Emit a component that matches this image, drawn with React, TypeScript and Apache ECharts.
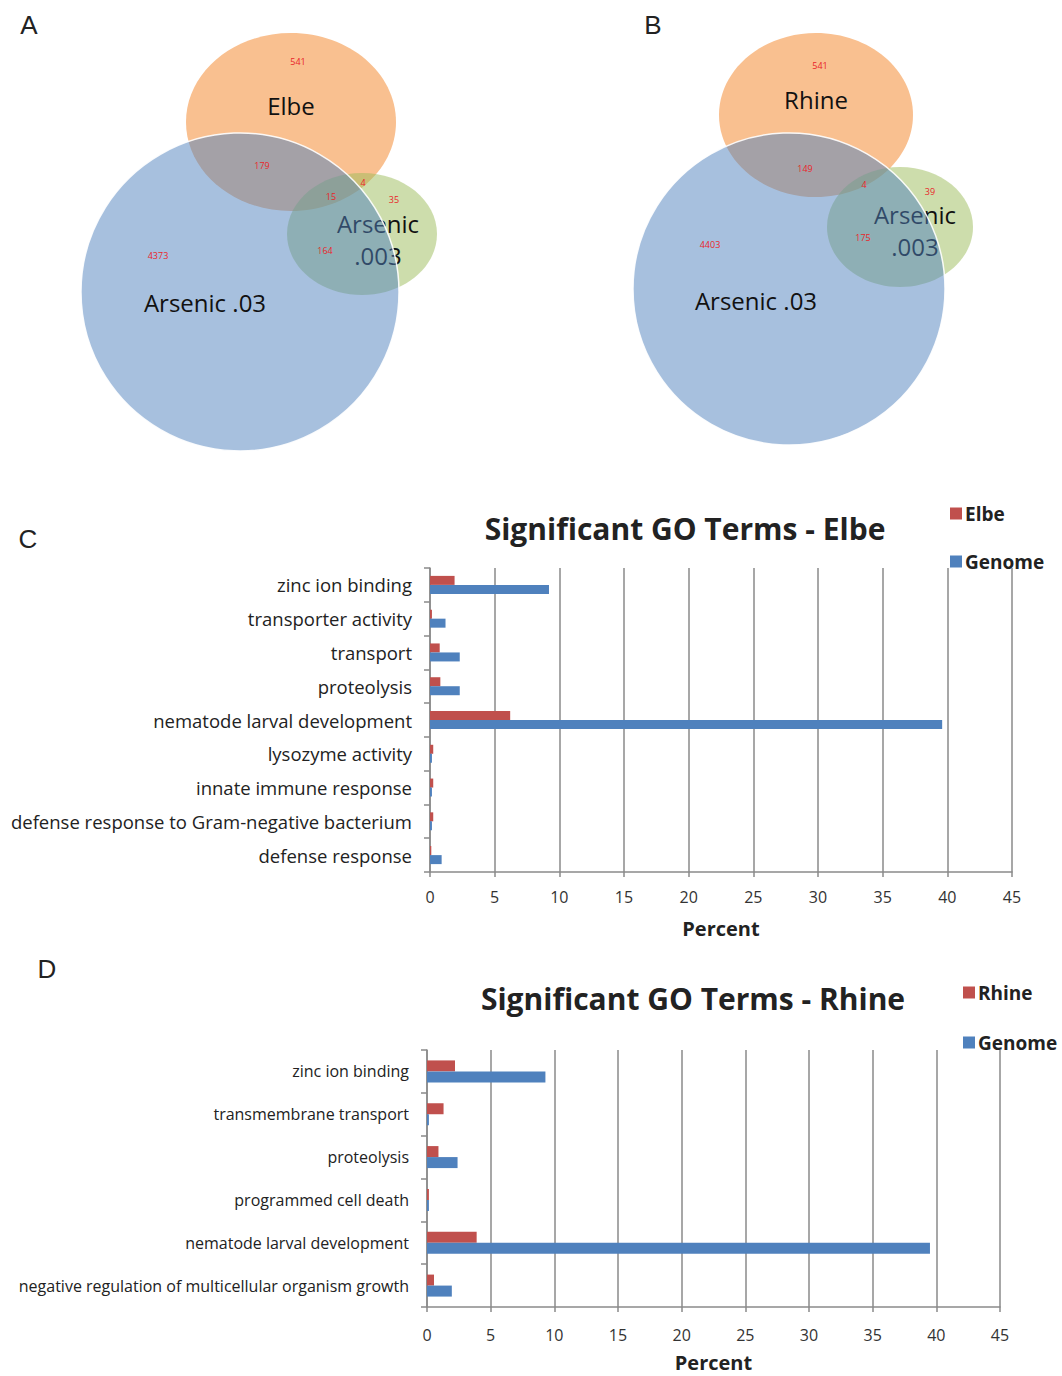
import React, { useEffect, useRef } from "react";
import * as echarts from "echarts";

// ---------- data ----------
const catsC = [
  "zinc ion binding",
  "transporter activity",
  "transport",
  "proteolysis",
  "nematode larval development",
  "lysozyme activity",
  "innate immune response",
  "defense response to Gram-negative bacterium",
  "defense response",
];
const elbeC = [1.9, 0.15, 0.75, 0.8, 6.2, 0.25, 0.25, 0.25, 0.1];
const genomeC = [9.2, 1.2, 2.3, 2.3, 39.6, 0.15, 0.15, 0.15, 0.9];

const catsD = [
  "zinc ion binding",
  "transmembrane transport",
  "proteolysis",
  "programmed cell death",
  "nematode larval development",
  "negative regulation of multicellular organism growth",
];
const rhineD = [2.2, 1.3, 0.9, 0.15, 3.9, 0.55];
const genomeD = [9.3, 0.15, 2.4, 0.15, 39.5, 1.95];

const xTicks = [0, 5, 10, 15, 20, 25, 30, 35, 40, 45];

// Venn diagram counts
const vennACounts = ["541", "179", "15", "4", "35", "4373", "164"];
const vennBCounts = ["541", "149", "4", "39", "4403", "175"];
const vennASets = ["Elbe", "Arsenic .03", "Arsenic", ".003"];
const vennBSets = ["Rhine", "Arsenic .03", "Arsenic", ".003"];

// positions (layout only)
const vennACountPos = [[298, 61], [262, 165], [331, 196], [363, 182], [394, 199], [158, 255], [325, 250]];
const vennBCountPos = [[820, 65], [805, 168], [864, 184], [930, 191], [710, 244], [863, 237]];

const FONT = "'Open Sans', Lato, sans-serif";
const RED = "#C0504D";
const BLUE = "#4F81BD";
const GRID = "#8a8a8a";

function vennGraphics(
  ox: { o: number[]; b: number[]; g: number[] },
  sets: string[],
  labelPos: number[][],
  counts: string[],
  countPos: number[][]
) {
  const els: any[] = [];
  const lbl = (t: string, p: number[], z: number) => ({
    type: "text",
    z,
    x: p[0],
    y: p[1],
    style: { text: t, font: `24px ${FONT}`, fill: "#111", align: "center", verticalAlign: "middle" },
  });
  els.push({
    type: "ellipse",
    z: 1,
    shape: { cx: ox.o[0], cy: ox.o[1], rx: ox.o[2], ry: ox.o[3] },
    style: { fill: "#F9C090" },
  });
  els.push({
    type: "ellipse",
    z: 2,
    shape: { cx: ox.g[0], cy: ox.g[1], rx: ox.g[2], ry: ox.g[3] },
    style: { fill: "rgba(155,187,89,0.5)" },
  });
  // Arsenic .003 label lies beneath the blue circle
  els.push(lbl(sets[2], labelPos[2], 3));
  els.push(lbl(sets[3], labelPos[3], 3));
  els.push({
    type: "circle",
    z: 4,
    shape: { cx: ox.b[0], cy: ox.b[1], r: ox.b[2] },
    style: { fill: "rgba(79,129,189,0.5)", stroke: "rgba(255,255,255,0.9)", lineWidth: 1.5 },
  });
  els.push(lbl(sets[0], labelPos[0], 5));
  els.push(lbl(sets[1], labelPos[1], 5));
  counts.forEach((c, i) => {
    els.push({
      type: "text",
      z: 6,
      x: countPos[i][0],
      y: countPos[i][1],
      style: { text: c, font: `9px ${FONT}`, fill: "#E8262A", align: "center", verticalAlign: "middle" },
    });
  });
  return els;
}

function panelLetter(t: string, x: number, y: number) {
  return {
    type: "text",
    z: 10,
    x,
    y,
    style: { text: t, font: "26px 'Liberation Sans', Arial, sans-serif", fill: "#222", align: "center", verticalAlign: "middle" },
  };
}

function xAxisCfg(gridIndex: number, margin: number, nameGap: number) {
  return {
    type: "value",
    gridIndex,
    min: 0,
    max: 45,
    interval: 5,
    name: "Percent",
    nameLocation: "middle",
    nameGap,
    nameTextStyle: { fontFamily: FONT, fontSize: 20, fontWeight: "bold", color: "#222" },
    axisLine: { show: true, lineStyle: { color: GRID, width: 1.5 } },
    axisTick: { show: true, length: 5, lineStyle: { color: GRID, width: 1.5 } },
    axisLabel: {
      fontFamily: FONT,
      fontSize: 16,
      color: "#333",
      margin,
      formatter: (v: number) => (xTicks.includes(v) ? String(v) : ""),
    },
    splitLine: { show: true, lineStyle: { color: GRID, width: 1.5 } },
  };
}

function yAxisCfg(gridIndex: number, cats: string[], fontSize: number) {
  return {
    type: "category",
    gridIndex,
    data: cats,
    inverse: true,
    axisLine: { show: true, lineStyle: { color: GRID, width: 1.5 } },
    axisTick: { show: true, length: 6, alignWithLabel: false, lineStyle: { color: GRID, width: 1.5 } },
    axisLabel: { fontFamily: FONT, fontSize, color: "#222", margin: 18 },
    splitLine: { show: false },
  };
}

const legendText = { fontFamily: FONT, fontSize: 19, fontWeight: "bold", color: "#222", padding: [0, 0, 0, -2] };

export default function App() {
  const ref = useRef<HTMLDivElement>(null);
  useEffect(() => {
    if (!ref.current) return;
    const chart = echarts.init(ref.current, undefined, { renderer: "svg" });
    const graphics = [
      ...vennGraphics(
        { o: [291, 122, 105, 89], b: [240, 292, 159], g: [362, 234, 75, 61] },
        vennASets,
        [[291, 105], [205, 302], [378, 223], [378, 255]],
        vennACounts,
        vennACountPos
      ),
      ...vennGraphics(
        { o: [816, 115, 97, 82], b: [789, 289, 156], g: [900, 227, 73, 60] },
        vennBSets,
        [[816, 99], [756, 300], [915, 214], [915, 246]],
        vennBCounts,
        vennBCountPos
      ),
      panelLetter("A", 29, 25),
      panelLetter("B", 653, 25),
      panelLetter("C", 28, 539),
      panelLetter("D", 47, 969),
    ];
    chart.setOption({
      animation: false,
      backgroundColor: "#fff",
      title: [
        {
          text: "Significant GO Terms - Elbe",
          left: 680,
          top: 508,
          textAlign: "center",
          textStyle: { fontFamily: FONT, fontSize: 30, fontWeight: "bold", color: "#222" },
        },
        {
          text: "Significant GO Terms - Rhine",
          left: 688,
          top: 978,
          textAlign: "center",
          textStyle: { fontFamily: FONT, fontSize: 30, fontWeight: "bold", color: "#222" },
        },
      ],
      legend: [
        {
          orient: "vertical",
          left: 945,
          top: 499,
          itemWidth: 12,
          itemHeight: 12,
          itemGap: 29,
          icon: "rect",
          data: ["Elbe", "Genome"],
          textStyle: legendText,
        },
        {
          orient: "vertical",
          left: 958,
          top: 978,
          itemWidth: 12,
          itemHeight: 12,
          itemGap: 31,
          icon: "rect",
          data: ["Rhine", "Genome"],
          textStyle: legendText,
        },
      ],
      grid: [
        { left: 430, right: 50, top: 568, height: 304 },
        { left: 427, right: 62, top: 1050, height: 257 },
      ],
      xAxis: [xAxisCfg(0, 17, 46), xAxisCfg(1, 20, 45)],
      yAxis: [yAxisCfg(0, catsC, 18.5), yAxisCfg(1, catsD, 16)],
      graphic: graphics,
      series: [
        { name: "Elbe", type: "bar", xAxisIndex: 0, yAxisIndex: 0, data: elbeC, barWidth: 9, barGap: "0%", itemStyle: { color: RED } },
        { name: "Genome", type: "bar", xAxisIndex: 0, yAxisIndex: 0, data: genomeC, barWidth: 9, barGap: "0%", itemStyle: { color: BLUE } },
        { name: "Rhine", type: "bar", xAxisIndex: 1, yAxisIndex: 1, data: rhineD, barWidth: 11, barGap: "0%", itemStyle: { color: RED } },
        { name: "Genome", type: "bar", xAxisIndex: 1, yAxisIndex: 1, data: genomeD, barWidth: 11, barGap: "0%", itemStyle: { color: BLUE } },
      ],
    });
    return () => chart.dispose();
  }, []);
  return (
    <div
      ref={ref}
      style={{ position: "absolute", left: 0, top: 0, width: 1062, height: 1376, background: "#fff" }}
    />
  );
}
